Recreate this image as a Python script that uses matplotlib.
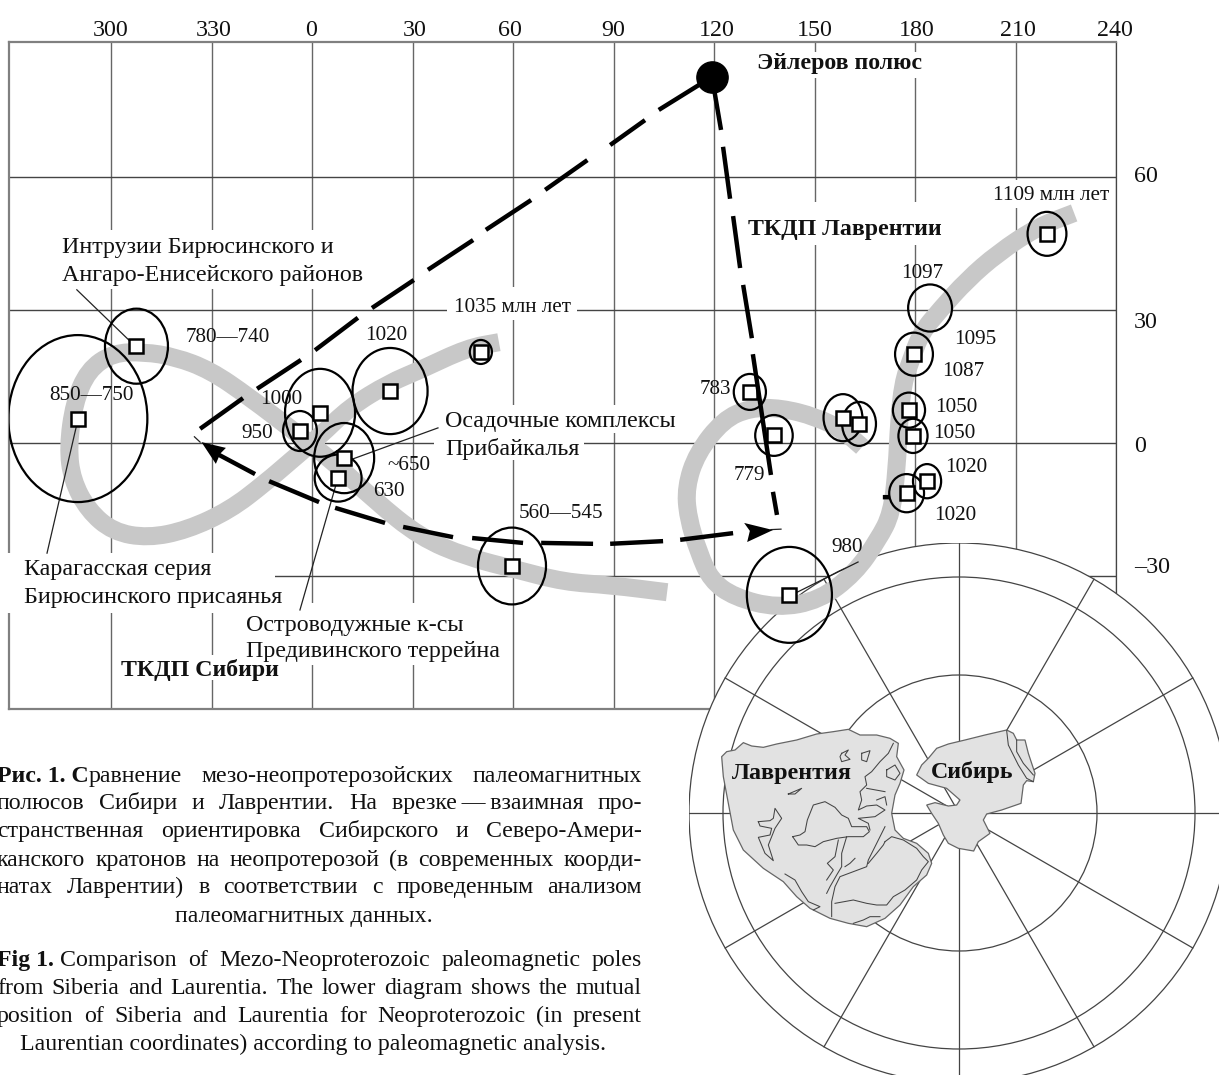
import numpy as np
import matplotlib
matplotlib.use("Agg")
import matplotlib.pyplot as plt
from matplotlib.patches import Circle, Ellipse, PathPatch, Polygon, Rectangle
from matplotlib.path import Path
from matplotlib.transforms import Affine2D, ScaledTranslation

plt.rcParams["font.family"] = ["Liberation Serif", "DejaVu Serif"]

W, H = 1219, 1075

lon_ticks = [-60, -30, 0, 30, 60, 90, 120, 150, 180, 210, 240]
lon_labels = ["300", "330", "0", "30", "60", "90", "120", "150", "180", "210", "240"]
lat_ticks = [60, 30, 0, -30]
lat_labels = ["60", "30", "0", "–30"]

# gray APWP bands, lon / lat
sib_lon = [55.8, 46.3, 32.2, 23.0, 11.3, 2.1, -6.0, -14.0, -24.5, -37.3, -49.0, -59.4, -66.9, -71.6, -72.8,
           -71.0, -66.9, -59.4, -50.1, -40.9, -30.4, -18.8, -4.8, 6.9, 18.5, 32.2, 46.3, 61.5, 75.2, 89.0, 106.0]
sib_lat = [22.7, 21.4, 16.4, 13.5, 8.1, 1.4, -3.8, -9.0, -15.1, -19.6, -21.4, -20.0, -15.1, -8.3, -0.9,
           9.0, 16.4, 20.3, 20.5, 19.4, 16.4, 10.4, 2.3, -4.5, -12.8, -21.2, -25.7, -28.6, -31.3, -32.0, -33.6]
lau_lon = [227.5, 216.4, 204.8, 195.5, 187.5, 181.8, 178.8, 176.4, 175.2, 174.6, 173.1, 169.0, 162.1, 151.6,
           138.8, 126.0, 119.1, 115.5, 112.2, 111.6, 114.9, 122.7, 130.7, 140.0, 150.4, 158.5, 164.2]
lau_lat = [51.8, 48.6, 42.8, 36.7, 30.0, 24.8, 18.7, 13.5, 4.5, -5.4, -15.8, -21.8, -29.3, -35.4,
           -37.2, -34.7, -30.9, -24.8, -16.7, -9.9, -2.3, 5.2, 7.9, 7.9, 5.9, 2.9, -0.9]

# poles with confidence ellipses
pole_lon = [-69.9, -52.4, 23.3, 50.4, 2.4, -3.6, 9.6, 7.8, 59.7, 219.4, 179.7, 178.2, 179.4, 183.6, 177.5,
            158.5, 163.3, 130.7, 137.9, 142.5]
pole_lat = [5.5, 21.8, 11.7, 20.5, 6.8, 2.7, -3.4, -7.9, -27.7, 47.1, 20.0, 7.4, 1.6, -8.6, -11.3,
            5.7, 4.3, 11.5, 1.7, -34.2]
ell_w = [41.5, 18.8, 22.4, 6.6, 20.9, 10.1, 17.9, 14.0, 20.3, 11.6, 11.3, 9.6, 8.7, 8.4, 10.4,
         11.6, 10.1, 9.6, 11.2, 25.4]
ell_h = [37.6, 16.9, 19.4, 5.4, 19.8, 9.0, 15.8, 10.6, 17.3, 9.9, 9.7, 7.9, 7.7, 7.7, 8.6,
         10.6, 9.9, 8.1, 9.2, 21.6]
# 1097 has an ellipse only
open_lon, open_lat, open_w, open_h = 184.5, 30.4, 13.1, 10.6

euler_lon, euler_lat = 119.3, 82.4

# dashes, nan separated
dash1_lon = [119.3, 103.5, np.nan, 99.4, 89.0, np.nan, 82.2, 69.6, np.nan, 65.4, 51.9, np.nan, 48.1, 34.6, np.nan,
             30.4, 17.9, np.nan, 13.7, 0.9, np.nan, -3.3, -16.4, np.nan, -20.6, -33.4]
dash1_lat = [82.4, 75.0, np.nan, 72.7, 67.1, np.nan, 63.7, 57.0, np.nan, 54.7, 48.0, np.nan, 45.7, 39.0, np.nan,
             36.7, 30.4, np.nan, 28.2, 20.9, np.nan, 18.7, 12.2, np.nan, 10.1, 3.2]
dash2_lon = [119.4, 122.1, np.nan, 122.7, 124.8, np.nan, 125.7, 127.8, np.nan, 128.7, 131.3, np.nan,
             131.6, 137.0, np.nan, 137.6, 138.8]
dash2_lat = [82.4, 70.5, np.nan, 66.7, 55.0, np.nan, 51.1, 39.4, np.nan, 35.6, 23.6, np.nan,
             20.0, -7.2, np.nan, -11.0, -16.2]
curve_lon = [125.7, 109.9, np.nan, 104.8, 89.0, np.nan, 83.9, 68.4, np.nan, 63.0, 47.8, np.nan, 42.1, 27.2, np.nan,
             21.8, 6.9, np.nan, 2.1, -12.8, np.nan, -17.0, -28.7, np.nan, 170.4, 172.5]
curve_lat = [-20.3, -21.8, np.nan, -22.1, -22.7, np.nan, -22.7, -22.5, np.nan, -22.5, -21.4, np.nan, -21.2, -18.9, np.nan,
             -18.0, -14.6, np.nan, -13.3, -8.6, np.nan, -7.0, -2.3, np.nan, -12.2, -12.2]
head_left = [(-33.0, 0.2), (-25.7, -1.1), (-27.4, -2.4), (-28.7, -4.7)]
head_right = [(137.6, -19.6), (129.0, -18.0), (130.7, -19.8), (129.9, -22.3)]

# thin leader lines
leaders = [((-70.2, 34.5), (-52.5, 21.6)), ((-79.1, -24.8), (-69.9, 5.2)), ((-3.6, -37.6), (7.8, -7.7)),
           ((37.6, 3.4), (9.6, -4.3)), ((163.0, -26.8), (142.4, -34.5)),
           ((-35.1, 1.4), (-33.4, 0.2)), ((137.0, -19.5), (140.0, -19.4))]

ring_radii = [138, 236, 270]
spoke_angles = np.arange(0, 360, 30)
laurentia = [(5, 110), (20, 95), (45, 90), (70, 68), (95, 78), (130, 82), (170, 72), (230, 60), (290, 42), (340, 35),
             (385, 28), (420, 45), (470, 45), (510, 55), (535, 70), (530, 110), (552, 150), (540, 190), (525, 225),
             (515, 280), (525, 330), (550, 355), (590, 370), (625, 400), (635, 430), (620, 465), (580, 500), (540, 555),
             (495, 595), (440, 620), (385, 610), (330, 595), (270, 565), (230, 530), (190, 485), (130, 445), (70, 390),
             (40, 330), (25, 250), (10, 170)]
laurentia_lines = [
    [(218, 350), (240, 345), (255, 335), (262, 300), (280, 255), (315, 245), (345, 262), (365, 285), (385, 295), (395, 320),
     (440, 320), (448, 335), (430, 350), (410, 350), (385, 350), (350, 355), (310, 365), (285, 380), (260, 375), (235, 375),
     (218, 350)],
    [(115, 305), (150, 302), (160, 295), (165, 265), (185, 295), (165, 325), (155, 350), (145, 375), (160, 422), (135, 400),
     (115, 352), (150, 345), (155, 325), (120, 318), (115, 305)],
    [(365, 100), (385, 90), (375, 105), (390, 118), (365, 125), (360, 110), (365, 100)],
    [(425, 100), (450, 92), (440, 125), (425, 120), (425, 100)],
    [(205, 222), (245, 205), (225, 222), (205, 222)],
    [(520, 70), (505, 100), (480, 125), (455, 155), (435, 170), (440, 195), (420, 215), (425, 240), (415, 270), (440, 258),
     (470, 255), (495, 270), (465, 290), (415, 295), (445, 310), (450, 330)],
    [(500, 150), (525, 135), (540, 160), (525, 180), (500, 170), (500, 150)],
    [(440, 205), (495, 215)],
    [(470, 240), (495, 230), (500, 255)],
    [(495, 320), (480, 350), (465, 380), (445, 420), (440, 440), (400, 455), (360, 470), (345, 500), (335, 545), (335, 590)],
    [(380, 350), (365, 400), (365, 440), (350, 465), (330, 500), (320, 520)],
    [(355, 360), (345, 410), (322, 430), (340, 450), (320, 480)],
    [(405, 415), (390, 430), (375, 440)],
    [(495, 365), (515, 350), (550, 360), (590, 385), (610, 410), (625, 425), (605, 450), (590, 480), (555, 510), (520, 530),
     (500, 555), (470, 555), (440, 550), (400, 540), (345, 550)],
    [(195, 462), (225, 480), (245, 515), (265, 545), (300, 560), (280, 570)],
    [(400, 610), (430, 600), (450, 590), (480, 590)],
    [(445, 430), (470, 400), (490, 375), (495, 365)],
]
siberia = [(5, 165), (20, 135), (40, 115), (65, 85), (100, 72), (150, 60), (210, 45), (275, 30), (295, 40), (305, 60),
           (330, 60), (340, 100), (360, 160), (355, 185), (335, 182), (325, 195), (318, 250), (260, 270), (215, 282),
           (205, 300), (225, 340), (190, 365), (176, 393), (130, 385), (100, 370), (85, 345), (70, 310), (50, 280),
           (35, 255), (60, 248), (100, 258), (125, 255), (135, 240), (95, 205), (40, 190)]
siberia_lines = [
    [(275, 32), (280, 75), (310, 135), (335, 175), (355, 185)],
    [(305, 60), (305, 95), (325, 130), (355, 165)],
]

# labels: x, y in pixels, text
number_labels = [
    (1051.5, 193, "1109 млн лет"), (512.5, 305, "1035 млн лет"), (922, 272, "1097"), (975.5, 337, "1095"),
    (963.5, 369, "1087"), (956.5, 406, "1050"), (954, 431, "1050"), (966.5, 466, "1020"), (955.5, 514, "1020"),
    (847.5, 546, "980"), (749.5, 473, "779"), (715.5, 388, "783"), (227.5, 335, "780—740"),
    (386.5, 333, "1020"), (91, 394, "850—750"), (281.5, 397, "1000"), (257, 431, "950"),
    (409, 464, "~650"), (388.5, 490, "630"), (561, 511, "560—545"),
]
block_labels = [
    (62, 245, "Интрузии Бирюсинского и"), (62, 273, "Ангаро-Енисейского районов"),
    (445, 419, "Осадочные комплексы"), (445, 447, "Прибайкалья"),
    (24.5, 568, "Карагасская серия"), (24.5, 595, "Бирюсинского присаянья"),
    (246, 623, "Островодужные к-сы"), (246, 650, "Предивинского террейна"),
]
bold_labels = [(757, 62, "Эйлеров полюс"), (748, 227, "ТКДП Лаврентии"), (121, 668, "ТКДП Сибири")]

# white areas behind labels that break the grid: x0, y0, x1, y1 in pixels
grid_masks = [(57, 230, 368, 289), (440, 405, 680, 433), (434, 433, 584, 460), (0, 553, 275, 613), (240, 603, 505, 665),
              (115, 655, 285, 680), (750, 52, 930, 78), (742, 202, 950, 245), (447, 287, 577, 320), (990, 180, 1112, 208)]

caption_ru = [
    "Рис.\u00a01.\u00a0Сравнение мезо-неопротерозойских палеомагнитных",
    "полюсов Сибири и Лаврентии. На врезке\u2009—\u2009взаимная про-",
    "странственная ориентировка Сибирского и Северо-Амери-",
    "канского кратонов на неопротерозой (в современных коорди-",
    "натах Лаврентии) в соответствии с проведенным анализом",
]
caption_en = [
    "Fig\u00a01.\u00a0Comparison of Mezo-Neoproterozoic paleomagnetic poles",
    "from Siberia and Laurentia. The lower diagram shows the mutual",
    "position of Siberia and Laurentia for Neoproterozoic (in present",
]

PX = Affine2D().scale(1, -1).translate(0, H)


def from_crop(points, x0):
    # 3x crop readings (crop origin x0, 720) -> pixels from the map pole
    return [(x / 3 + x0 - 959, 813 - (y / 3 + 720)) for x, y in points]


def smooth_path(xs, ys):
    # read points act as bezier control points, so the thick band has no corners
    pts = np.column_stack([xs, ys])
    mids = (pts[:-1] + pts[1:]) / 2
    verts = [pts[0], mids[0]]
    codes = [Path.MOVETO, Path.LINETO]
    for p, m in zip(pts[1:-1], mids[1:]):
        verts += [p, m]
        codes += [Path.CURVE3, Path.CURVE3]
    verts.append(pts[-1])
    codes.append(Path.LINETO)
    return Path(verts, codes)


def justified(ax, line, y, bold_chars, size, x0=-3, x1=642):
    renderer = ax.figure.canvas.get_renderer()
    words = []
    used = 0
    for word in line.split(" "):
        n_bold = min(max(bold_chars - used, 0), len(word))
        used += len(word) + 1
        runs = [(word[:n_bold], "bold"), (word[n_bold:], "normal")]
        words.append([r for r in runs if r[0]])
    widths = []
    for runs in words:
        run_w = []
        for s, weight in runs:
            t = ax.text(0, 0, s, fontsize=size, fontweight=weight, transform=PX)
            run_w.append(t.get_window_extent(renderer).width)
            t.remove()
        widths.append(run_w)
    gap = (x1 - x0 - sum(sum(w) for w in widths)) / (len(words) - 1)
    x = x0
    for runs, run_w in zip(words, widths):
        for (s, weight), w in zip(runs, run_w):
            ax.text(x, y, s, fontsize=size, fontweight=weight, transform=PX, va="baseline", color="#111111")
            x += w
        x += gap


fig = plt.figure(figsize=(W / 100, H / 100), dpi=100, facecolor="white")
rect = [9 / W, 1 - 709 / H, (1116 - 9) / W, (709 - 42) / H]
xlim = (-90.45, 240)
ylim = (-59.9, 90.3)

# bottom layer: grid, tick labels and the white areas over it
ax = fig.add_axes(rect, zorder=0)
ax.set_xlim(xlim)
ax.set_ylim(ylim)
ax.set_xticks(lon_ticks, lon_labels)
ax.set_yticks(lat_ticks, lat_labels)
ax.xaxis.tick_top()
ax.yaxis.tick_right()
ax.tick_params(length=0, labelsize=17.3, labelcolor="#111111")
ax.tick_params(axis="x", pad=1)
ax.tick_params(axis="y", pad=13)
ax.grid(axis="x", color="#666666", lw=1.0)
ax.grid(axis="y", color="#444444", lw=1.0)
for name in ["top", "left", "bottom"]:
    ax.spines[name].set_color("#808080")
    ax.spines[name].set_linewidth(1.6)
ax.spines["right"].set_color("#444444")
ax.spines["right"].set_linewidth(0.9)

for label, dx in zip(ax.get_xticklabels(), [0, 2, -1, 2, -3, 0, 3, 0, 2, 2, -1]):
    label.set_transform(label.get_transform() + ScaledTranslation(dx / 100, 0, fig.dpi_scale_trans))
for label, dy in zip(ax.get_yticklabels(), [3, -10, -1, 11]):
    label.set_transform(label.get_transform() + ScaledTranslation(0, dy / 100, fig.dpi_scale_trans))

for x0, y0, x1, y1 in grid_masks:
    ax.add_patch(Rectangle((x0, y0), x1 - x0, y1 - y0, transform=PX, facecolor="white", edgecolor="none",
                           zorder=2.8, clip_on=False))
for x, y, s in block_labels:
    ax.text(x, y + 2, s, transform=PX, fontsize=17.3, va="center", color="#111111")
for x, y, s in bold_labels:
    ax.text(x, y + 2, s, transform=PX, fontsize=17.2, fontweight="bold", va="center", color="#111111")

# middle layer: inset polar map
inset = fig.add_axes([(959 - 270) / W, 1 - (813 + 270) / H, 540 / W, 540 / H], zorder=1)
inset.set_xlim(-270, 270)
inset.set_ylim(-270, 270)
inset.axis("off")
inset.add_patch(Circle((0, 0), 270, facecolor="white", edgecolor="none"))
for r in ring_radii:
    inset.add_patch(Circle((0, 0), r, facecolor="none", edgecolor="#444444", lw=0.9))
for a in spoke_angles:
    inset.plot([0, 270 * np.cos(np.radians(a))], [0, 270 * np.sin(np.radians(a))], color="#444444", lw=0.9)
inset.add_patch(Polygon(from_crop(laurentia, 720), closed=True, facecolor="#e2e2e2", edgecolor="#666666", lw=0.9, zorder=3))
inset.add_patch(Polygon(from_crop(siberia, 915), closed=True, facecolor="#e2e2e2", edgecolor="#666666", lw=0.9, zorder=3))
for lines, crop_x in [(laurentia_lines, 720), (siberia_lines, 915)]:
    for line in lines:
        pts = np.array(from_crop(line, crop_x))
        inset.plot(pts[:, 0], pts[:, 1], color="#444444", lw=0.75, zorder=4)

# top layer: bands, ellipses, poles, dashes
top = fig.add_axes(rect, zorder=2)
top.set_xlim(xlim)
top.set_ylim(ylim)
top.axis("off")
for xs, ys in [(sib_lon, sib_lat), (lau_lon, lau_lat)]:
    top.add_patch(PathPatch(smooth_path(xs, ys), facecolor="none", edgecolor="#c8c8c8", lw=13,
                            capstyle="butt", joinstyle="round", zorder=1))

for (p0, p1) in leaders:
    top.plot([p0[0], p1[0]], [p0[1], p1[1]], color="#222222", lw=0.9, zorder=2)

for lon, lat, w, h in zip(pole_lon, pole_lat, ell_w, ell_h):
    top.add_patch(Ellipse((lon, lat), w, h, facecolor="none", edgecolor="black", lw=1.6, zorder=3))
top.add_patch(Ellipse((open_lon, open_lat), open_w, open_h, facecolor="none", edgecolor="black", lw=1.6, zorder=3))
top.plot(pole_lon, pole_lat, "s", ms=9.5, mfc="white", mec="black", mew=1.8, ls="none", zorder=4)

for xs, ys in [(dash1_lon, dash1_lat), (dash2_lon, dash2_lat), (curve_lon, curve_lat)]:
    top.plot(xs, ys, color="black", lw=3.2, solid_capstyle="butt", zorder=5)
top.add_patch(Polygon(head_left, closed=True, facecolor="black", edgecolor="none", zorder=5))
top.add_patch(Polygon(head_right, closed=True, facecolor="black", edgecolor="none", zorder=5))
top.plot([euler_lon], [euler_lat], "o", ms=22.5, color="black", zorder=6)

for x, y, s in number_labels:
    top.text(x, y + 2, s, transform=PX, fontsize=15.2, ha="center", va="center", color="#111111", zorder=7)
top.text(792, 774, "Лаврентия", transform=PX, fontsize=17.4, fontweight="bold", ha="center", va="center", color="#111111")
top.text(972, 772, "Сибирь", transform=PX, fontsize=17.2, fontweight="bold", ha="center", va="center", color="#111111")

# caption, justified by hand
cap_size = 17.2
for i, (line, y) in enumerate(zip(caption_ru, [782, 809, 837, 866, 893])):
    justified(top, line, y, 9 if i == 0 else 0, cap_size)
top.text(304, 922, "палеомагнитных данных.", transform=PX, fontsize=cap_size, ha="center", va="baseline", color="#111111")
for i, (line, y) in enumerate(zip(caption_en, [966, 994, 1022])):
    justified(top, line, y, 6 if i == 0 else 0, cap_size)
top.text(313, 1050, "Laurentian coordinates) according to paleomagnetic analysis.", transform=PX, fontsize=cap_size,
         ha="center", va="baseline", color="#111111")

fig.savefig("out.png", dpi=100)
